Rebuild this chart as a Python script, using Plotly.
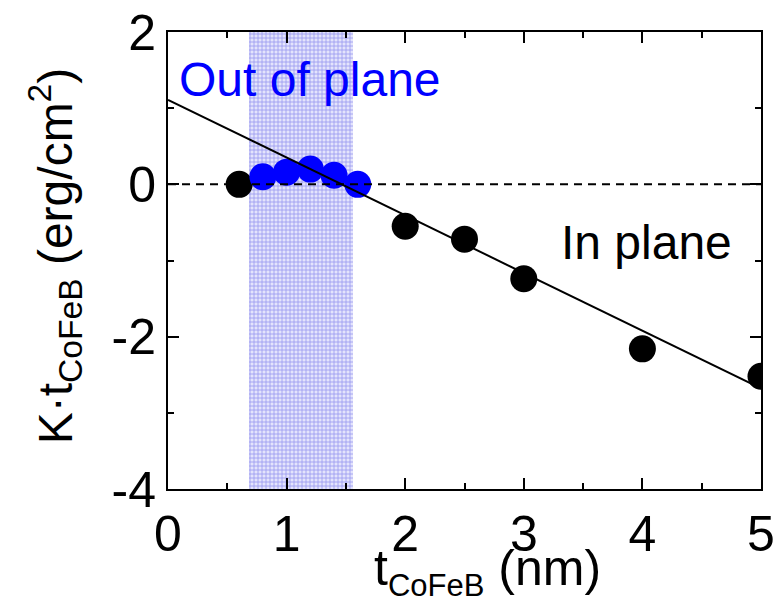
import plotly.graph_objects as go

# Data
t_black = [0.6, 2.0, 2.5, 3.0, 4.0, 5.0]
k_black = [0.0, -0.55, -0.72, -1.24, -2.16, -2.52]
t_blue = [0.8, 1.0, 1.2, 1.4, 1.6]
k_blue = [0.1, 0.16, 0.2, 0.12, 0.0]
fit_t = [0.0, 5.0]
fit_k = [1.11, -2.68]
zero_t = [0.0, 5.0]
zero_k = [0.0, 0.0]
shade_range = [0.68, 1.56]
x_ticks = [0, 1, 2, 3, 4, 5]
y_ticks = [-4, -2, 0, 2]
y_ticklabels = ["-4", "-2", "0", "2"]
y_range = [-4, 2]

FONT = "Liberation Sans, Arial, sans-serif"

fig = go.Figure()

# shaded "out of plane" band with a fine dotted pattern
fig.add_trace(go.Bar(
    x=[(shade_range[0] + shade_range[1]) / 2], y=[y_range[1] - y_range[0]], base=[y_range[0]],
    width=[shade_range[1] - shade_range[0]],
    marker=dict(color="rgb(212,212,250)", line=dict(width=0),
                pattern=dict(shape="+", fgcolor="rgb(150,150,240)", bgcolor="rgb(228,228,252)",
                             size=4, solidity=0.35, fillmode="replace")),
    showlegend=False, hoverinfo="skip"))

fig.add_trace(go.Scatter(x=t_black, y=k_black, mode="markers",
                         marker=dict(color="black", size=27), showlegend=False, cliponaxis=True))
fig.add_trace(go.Scatter(x=t_blue, y=k_blue, mode="markers",
                         marker=dict(color="#0000ff", size=27), showlegend=False))
fig.add_trace(go.Scatter(x=zero_t, y=zero_k, mode="lines",
                         line=dict(color="black", width=2, dash="8px,6px"), showlegend=False))
fig.add_trace(go.Scatter(x=fit_t, y=fit_k, mode="lines",
                         line=dict(color="black", width=2), showlegend=False))

fig.add_annotation(x=0.08, y=1.38, xref="x", yref="y", text="Out of plane", showarrow=False,
                   xanchor="left", yanchor="middle", font=dict(family=FONT, size=48, color="#0000ff"))
fig.add_annotation(x=3.3, y=-0.76, xref="x", yref="y", text="In plane", showarrow=False,
                   xanchor="left", yanchor="middle", font=dict(family=FONT, size=48, color="black"))

# axis titles
fig.add_annotation(x=0.538, y=-0.108, xref="paper", yref="paper",
                   text="t<sub><span style=\"font-size:31px\">CoFeB</span></sub> (nm)",
                   showarrow=False, xanchor="center", yanchor="top",
                   font=dict(family=FONT, size=50, color="black"))
fig.add_annotation(x=-0.19, y=0.51, xref="paper", yref="paper",
                   text="K·t<sub>CoFeB</sub> (erg/cm<sup>2</sup>)", textangle=-90,
                   showarrow=False, xanchor="center", yanchor="middle",
                   font=dict(family=FONT, size=48, color="black"))

axis_common = dict(showline=True, linecolor="black", linewidth=2, mirror="ticks",
                   ticks="inside", ticklen=11, tickwidth=2, tickcolor="black",
                   showgrid=False, zeroline=False, automargin=False,
                   tickfont=dict(family=FONT, size=50, color="black"))

fig.update_xaxes(range=[0, 5], tickmode="array", tickvals=x_ticks,
                 ticktext=[str(v) for v in x_ticks],
                 minor=dict(ticks="inside", dtick=0.5, ticklen=6, tickwidth=2, tickcolor="black"),
                 **axis_common)
fig.update_yaxes(range=y_range, tickmode="array", tickvals=y_ticks, ticktext=y_ticklabels,
                 minor=dict(ticks="inside", dtick=1, ticklen=6, tickwidth=2, tickcolor="black"),
                 **axis_common)

fig.update_layout(width=778, height=610, margin=dict(l=168, r=17, t=32, b=121),
                  plot_bgcolor="white", paper_bgcolor="white", showlegend=False,
                  bargap=0)

fig.write_html("out.html")
